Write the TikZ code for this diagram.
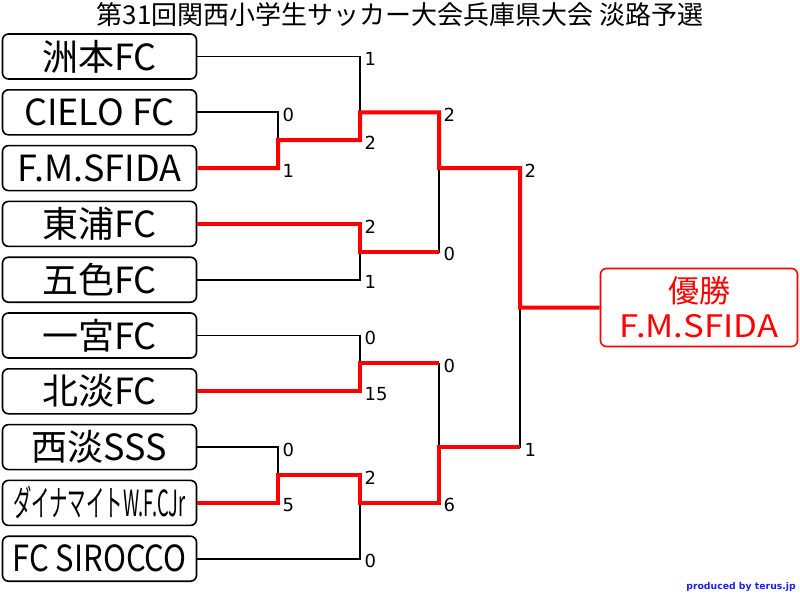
\documentclass[tikz,border=0pt]{standalone}
\usepackage{graphicx}
\usepackage{fontspec}
\setmainfont{Noto Sans CJK JP}
\newfontfamily\digitfont{DejaVu Sans}
\definecolor{tagblue}{RGB}{30,30,235}

\begin{document}
\begin{tikzpicture}[x=1pt,y=-1pt,
	team/.style={draw,line width=1.6pt,rounded corners=6pt,minimum width=194pt,minimum height=45pt,inner sep=0pt,font=\fontsize{36}{36}\selectfont},
	lose/.style={line width=1.8pt},
	win/.style={red,line width=4pt},
	score/.style={anchor=west,inner sep=0pt,xshift=4.5pt,yshift=-2.5pt,font=\digitfont\fontsize{18}{18}\selectfont}]
	\useasboundingbox (0,0) rectangle (800,595);
	\node (title) at (400,15) {\fontsize{26}{26}\selectfont 第31回関西小学生サッカー大会兵庫県大会 淡路予選};
	\foreach \t [count=\i] in {洲本FC,CIELO FC,F.M.SFIDA,東浦FC,五色FC,一宮FC,北淡FC,西淡SSS,{\scalebox{.51}[1]{ダイナマイトW.F.CJr}},{\scalebox{.86}[1]{FC SIROCCO}}}
	\node[team] (t\i) at (99.5,{56.5+55.8*(\i-1)}) {\t};
	\node[draw=red,text=red,line width=1.6pt,rounded corners=6pt,minimum width=197pt,minimum height=78pt,inner sep=0pt,align=center,font=\fontsize{31}{35}\selectfont] (champ) at (699,307.5) {優勝\\\scalebox{1.12}[1]{F.M.SFIDA}};
	\path 
	(278,140.2) coordinate (gA) (278,475) coordinate (gB)
	(360,112.3) coordinate (gC) (360,251.8) coordinate (gD) (360,363.4) coordinate (gE) (360,502.9) coordinate (gF)
	(439,168.1) coordinate (gG) (439,447.1) coordinate (gH) (520,307.6) coordinate (gI);
	\draw[lose] (t1.east) -| (gC) (t2.east) -| (gA) (t5.east) -| (gD) (t6.east) -| (gE) (t8.east) -| (gB) (t10.east) -| (gF)
	(gD) -| (gG) (gE) -| (gH) (gH) -| (gI);
	\draw[win] (t3.east) -| (gA) -| (gC) -| (gG) -| (gI) -- (champ.west);
	\draw[win] (t4.east) -| (gD) -- (gD -| gG) (t7.east) -| (gE) -- (gE -| gH);
	\draw[win] (t9.east) -| (gB) -| (gF) -| (gH) -- (gH -| gI);
	\foreach \a/\b/\s [count=\k] in {gC/t1/1,gA/t2/0,gA/t3/1,gC/gA/2,gG/gC/2,gG/gD/0,gD/t4/2,gD/t5/1,gI/gG/2,gE/t6/0,gE/t7/15,gH/gE/0,gB/t8/0,gB/t9/5,gF/gB/2,gF/t10/0,gH/gF/6,gI/gH/1}
	\node[score] (s\k) at (\a |- \b) {\s};
	\node[anchor=east,inner sep=0pt,text=tagblue,font=\digitfont\bfseries\fontsize{9.3}{9.3}\selectfont] (tag) at (796,587) {produced by terus.jp};
\end{tikzpicture}
\end{document}
